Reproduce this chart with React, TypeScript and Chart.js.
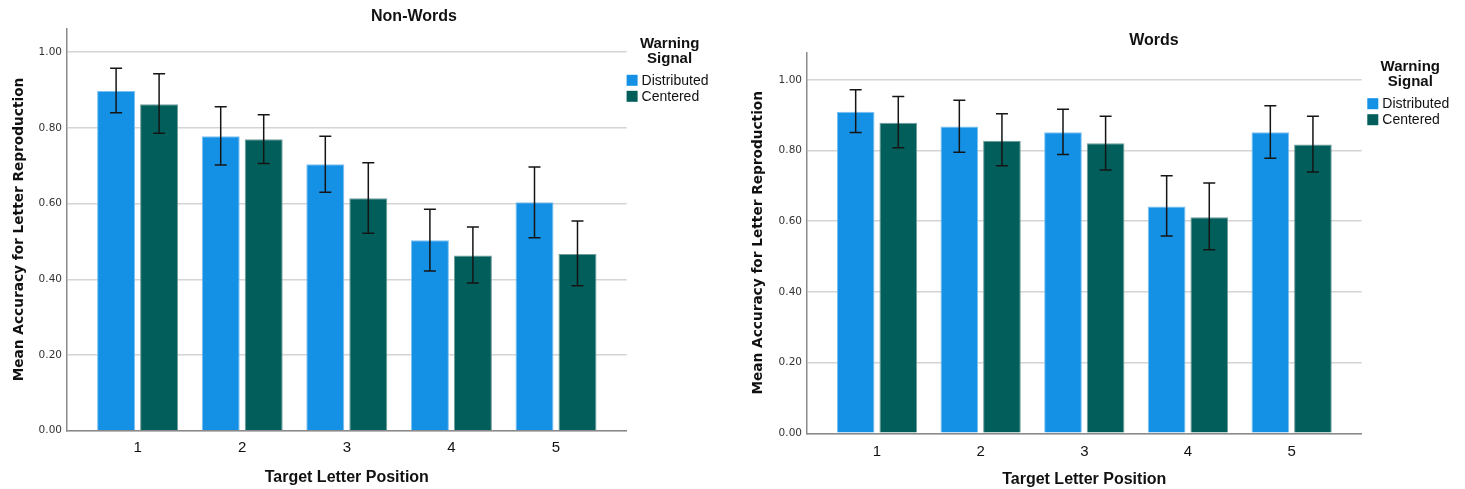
import React, { useEffect, useRef } from 'react';
import { Chart, registerables } from 'chart.js';

Chart.register(...registerables);

// ---------- data ----------
const categories = [1, 2, 3, 4, 5];
const categoryLabels = ['1', '2', '3', '4', '5'];
const yTickValues = [0, 0.2, 0.4, 0.6, 0.8, 1.0];
const seriesNames = ['Distributed', 'Centered'];
const legendTitle = ['Warning', 'Signal'];
const xAxisTitle = 'Target Letter Position';
const yAxisTitle = 'Mean Accuracy for Letter Reproduction';

const nonWordsTitle = 'Non-Words';
const nonWordsDistributed = [0.898, 0.778, 0.704, 0.503, 0.604];
const nonWordsDistributedLow = [0.840, 0.702, 0.630, 0.422, 0.510];
const nonWordsDistributedHigh = [0.958, 0.856, 0.778, 0.585, 0.697];
const nonWordsCentered = [0.863, 0.770, 0.614, 0.463, 0.467];
const nonWordsCenteredLow = [0.786, 0.706, 0.522, 0.390, 0.383];
const nonWordsCenteredHigh = [0.943, 0.835, 0.708, 0.538, 0.554];

const wordsTitle = 'Words';
const wordsDistributed = [0.910, 0.868, 0.852, 0.642, 0.852];
const wordsDistributedLow = [0.851, 0.795, 0.789, 0.558, 0.778];
const wordsDistributedHigh = [0.972, 0.942, 0.917, 0.729, 0.927];
const wordsCentered = [0.879, 0.828, 0.821, 0.611, 0.817];
const wordsCenteredLow = [0.808, 0.757, 0.745, 0.519, 0.739];
const wordsCenteredHigh = [0.953, 0.904, 0.897, 0.708, 0.897];

// ---------- styles ----------
const BLUE = '#1490e4';
const BLUE_EDGE = '#7cc0f0';
const TEAL = '#015e5a';
const TEAL_EDGE = '#6f9d9b';
const AXIS = '#8a8a8a';
const GRID = '#d4d4d4';
const SANS = "'Liberation Sans', Arial, sans-serif";
const VERDANA = "'DejaVu Sans', Verdana, sans-serif";

const errorBarPlugin = {
  id: 'errorBars',
  afterDatasetsDraw(chart: any, _args: any, opts: any) {
    const { ctx } = chart;
    const yScale = chart.scales.y;
    ctx.save();
    ctx.strokeStyle = '#151515';
    ctx.lineWidth = 1.5;
    chart.data.datasets.forEach((_ds: any, i: number) => {
      const meta = chart.getDatasetMeta(i);
      const lows = opts.lows[i];
      const highs = opts.highs[i];
      meta.data.forEach((el: any, j: number) => {
        const x = el.x;
        const yl = yScale.getPixelForValue(lows[j]);
        const yh = yScale.getPixelForValue(highs[j]);
        const cap = 6;
        ctx.beginPath();
        ctx.moveTo(x, yl);
        ctx.lineTo(x, yh);
        ctx.moveTo(x - cap, yl);
        ctx.lineTo(x + cap, yl);
        ctx.moveTo(x - cap, yh);
        ctx.lineTo(x + cap, yh);
        ctx.stroke();
      });
    });
    ctx.restore();
  },
};

const headerPlugin = {
  id: 'header',
  afterDraw(chart: any, _args: any, opts: any) {
    const { ctx, chartArea } = chart;
    ctx.save();
    ctx.fillStyle = '#111';
    // chart title
    ctx.textBaseline = 'middle';
    ctx.textAlign = 'center';
    ctx.font = `bold 16px ${SANS}`;
    ctx.fillText(opts.title, chartArea.left + opts.titleDx, chartArea.top - opts.titleDy);
    // legend
    const lx = chartArea.right + opts.legendDx;
    const ly = chartArea.top + opts.legendDy;
    ctx.font = `bold 15px ${SANS}`;
    ctx.textBaseline = 'alphabetic';
    legendTitle.forEach((t, k) => {
      ctx.fillText(t, lx + 43, ly + 4.5 + k * 15);
    });
    ctx.textAlign = 'left';
    ctx.textBaseline = 'middle';
    ctx.font = `14px ${SANS}`;
    chart.data.datasets.forEach((ds: any, i: number) => {
      const cy = ly + 37 + i * 16;
      ctx.fillStyle = ds.backgroundColor;
      ctx.fillRect(lx, cy - 5.5, 11, 11);
      ctx.fillStyle = '#111';
      ctx.fillText(ds.label, lx + 15, cy + 0.5);
    });
    ctx.restore();
  },
};

type Spec = {
  title: string;
  dist: number[];
  distLow: number[];
  distHigh: number[];
  cent: number[];
  centLow: number[];
  centHigh: number[];
  yMax: number;
  width: number;
  yAxisWidth: number;
  yTitlePad: number;
  xTickPad: number;
  xTitlePad: number;
  top: number;
  bottomHeight: number;
  padRight: number;
  legendDx: number;
  legendDy: number;
};

function buildConfig(s: Spec): any {
  const toPoints = (vals: number[]) => categories.map((c, i) => ({ x: c, y: vals[i] }));
  return {
    type: 'bar',
    data: {
      datasets: [
        {
          label: seriesNames[0],
          data: toPoints(s.dist),
          backgroundColor: BLUE,
          borderColor: BLUE_EDGE,
          borderWidth: 1,
          categoryPercentage: 0.822,
          barPercentage: 0.884,
        },
        {
          label: seriesNames[1],
          data: toPoints(s.cent),
          backgroundColor: TEAL,
          borderColor: TEAL_EDGE,
          borderWidth: 1,
          categoryPercentage: 0.822,
          barPercentage: 0.884,
        },
      ],
    },
    options: {
      responsive: false,
      animation: false,
      devicePixelRatio: 1,
      layout: { padding: { top: s.top, right: s.padRight, left: 0, bottom: 0 } },
      plugins: {
        legend: { display: false },
        title: { display: false },
        tooltip: { enabled: false },
        errorBars: {
          lows: [s.distLow, s.centLow],
          highs: [s.distHigh, s.centHigh],
        },
        header: {
          title: s.title,
          titleDx: 347,
          titleDy: 12,
          legendDx: s.legendDx,
          legendDy: s.legendDy,
        },
      },
      scales: {
        x: {
          type: 'linear',
          min: 0.325,
          max: 5.675,
          offset: false,
          grid: { display: false, drawTicks: false },
          border: { display: true, color: AXIS, width: 1.5 },
          afterBuildTicks: (sc: any) => {
            sc.ticks = categories.map((v) => ({ value: v }));
          },
          afterFit: (sc: any) => {
            sc.height = s.bottomHeight;
          },
          ticks: {
            autoSkip: false,
            maxRotation: 0,
            padding: s.xTickPad,
            color: '#111',
            font: { family: SANS, size: 15 },
            callback: (v: any) => categoryLabels[categories.indexOf(Number(v))],
          },
          title: {
            display: true,
            text: xAxisTitle,
            color: '#111',
            font: { family: SANS, size: 16, weight: 'bold' },
            padding: { top: 0, bottom: s.xTitlePad },
          },
        },
        y: {
          type: 'linear',
          min: 0,
          max: s.yMax,
          grid: { color: GRID, lineWidth: 1.6, drawTicks: false },
          border: { display: true, color: AXIS, width: 1.5 },
          afterBuildTicks: (sc: any) => {
            sc.ticks = yTickValues.map((v) => ({ value: v }));
          },
          afterFit: (sc: any) => {
            sc.width = s.yAxisWidth;
          },
          ticks: {
            padding: 5,
            color: '#333',
            font: { family: VERDANA, size: 10.5 },
            callback: (v: any) => Number(v).toFixed(2),
          },
          title: {
            display: true,
            text: yAxisTitle,
            color: '#111',
            font: { family: VERDANA, size: 13.7, weight: 'bold' },
            padding: { top: s.yTitlePad, bottom: 0 },
          },
        },
      },
    },
    plugins: [errorBarPlugin, headerPlugin],
  };
}

const leftSpec: Spec = {
  title: nonWordsTitle,
  dist: nonWordsDistributed,
  distLow: nonWordsDistributedLow,
  distHigh: nonWordsDistributedHigh,
  cent: nonWordsCentered,
  centLow: nonWordsCenteredLow,
  centHigh: nonWordsCenteredHigh,
  yMax: 1.0634,
  width: 732,
  yAxisWidth: 67,
  yTitlePad: 11,
  xTickPad: 8,
  xTitlePad: 2,
  top: 28.3,
  bottomHeight: 58.3,
  padRight: 105.4,
  legendDx: 0,
  legendDy: 15,
};

const rightSpec: Spec = {
  title: wordsTitle,
  dist: wordsDistributed,
  distLow: wordsDistributedLow,
  distHigh: wordsDistributedHigh,
  cent: wordsCentered,
  centLow: wordsCenteredLow,
  centHigh: wordsCenteredHigh,
  yMax: 1.078,
  width: 730,
  yAxisWidth: 72,
  yTitlePad: 15,
  xTickPad: 10,
  xTitlePad: 0,
  top: 52.3,
  bottomHeight: 55.7,
  padRight: 103.4,
  legendDx: 5.7,
  legendDy: 14.4,
};

function BarPanel({ spec, left }: { spec: Spec; left: number }) {
  const ref = useRef<HTMLCanvasElement | null>(null);
  useEffect(() => {
    if (!ref.current) return;
    const chart = new Chart(ref.current, buildConfig(spec));
    return () => chart.destroy();
  }, [spec]);
  return (
    <canvas
      ref={ref}
      width={spec.width}
      height={489}
      style={{ position: 'absolute', left, top: 0, width: spec.width, height: 489 }}
    />
  );
}

export default function App() {
  useEffect(() => {
    document.body.style.margin = '0';
    document.body.style.background = '#ffffff';
  }, []);
  return (
    <div style={{ position: 'relative', width: 1465, height: 489, background: '#fff', overflow: 'hidden' }}>
      <BarPanel spec={leftSpec} left={0} />
      <BarPanel spec={rightSpec} left={735} />
    </div>
  );
}
